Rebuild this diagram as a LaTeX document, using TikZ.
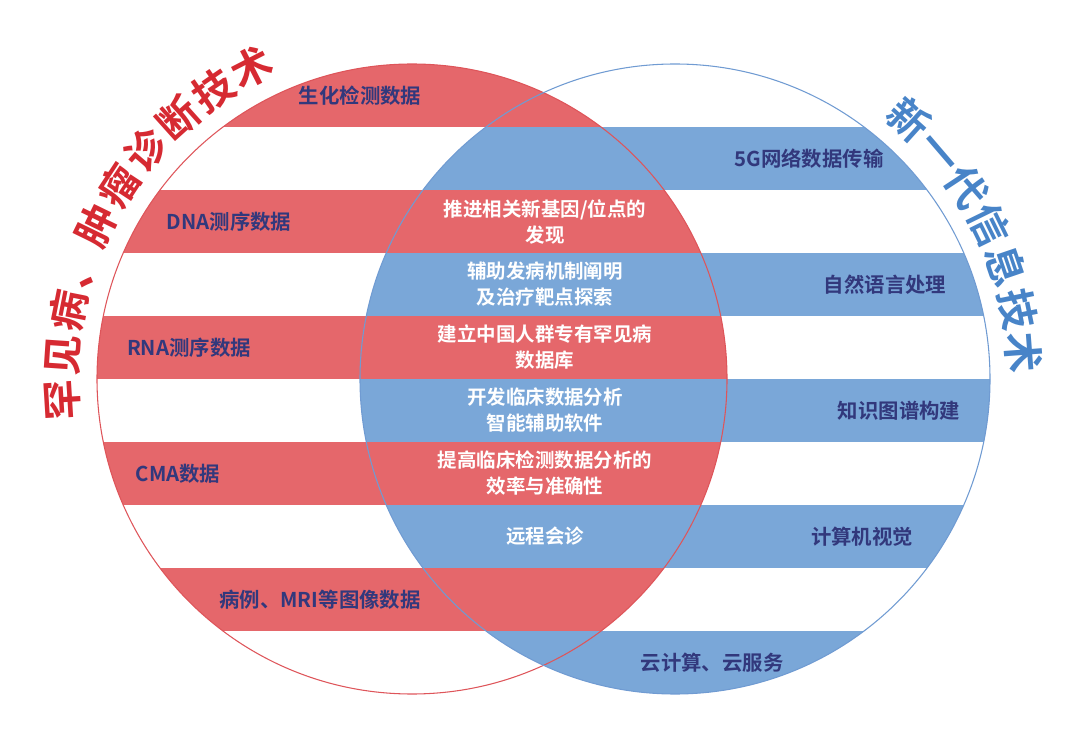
\documentclass[tikz,border=0pt]{standalone}
\usepackage{fontspec}
\setmainfont{Noto Sans CJK SC}[BoldFont={Noto Sans CJK SC Bold}]
\definecolor{bandred}{RGB}{229,103,107}
\definecolor{bandblue}{RGB}{122,167,216}
\definecolor{ringred}{RGB}{222,85,90}
\definecolor{ringblue}{RGB}{112,155,210}
\definecolor{titlered}{RGB}{214,42,50}
\definecolor{titleblue}{RGB}{72,132,200}
\definecolor{labelnavy}{RGB}{50,56,124}
\begin{document}
\begin{tikzpicture}[
  x=0.75pt, y=0.75pt,
  lbl/.style={font=\bfseries\fontsize{15.3}{19.5}\selectfont, text=labelnavy, align=center, inner sep=0pt},
  midlbl/.style={lbl, font=\bfseries\fontsize{14.6}{19.5}\selectfont, text=white},
  ttl/.style={font=\bfseries\fontsize{30.5}{30.5}\selectfont, inner sep=0pt,
    text height=0.8em, text depth=0.06em}
]
  \useasboundingbox (0,0) rectangle (1080,743);
  \coordinate (rc) at (412,364);
  \coordinate (bc) at (675,364);

  \begin{scope}
    \clip (rc) circle (315);
    \foreach \i in {0,...,4}
      \fill[bandred] (0,{616-126*\i}) rectangle (1080,{679-126*\i});
  \end{scope}
  \begin{scope}
    \clip (bc) circle (315);
    \foreach \i in {0,...,4}
      \fill[bandblue] (0,{553-126*\i}) rectangle (1080,{616-126*\i});
  \end{scope}
  \draw[ringred, line width=0.8pt] (rc) circle (315);
  \draw[ringblue, line width=0.8pt] (bc) circle (315);

  \foreach \ch [count=\k from 0] in {罕,见,病,、,肿,瘤,诊,断,技,术} {
    \pgfmathsetmacro{\ang}{183.5-7.37*\k}
    \node[ttl, text=titlered, rotate=\ang-90] (rt\k) at ([shift={(\ang:340)}]rc) {\ch};
  }
  \foreach \ch [count=\k from 0] in {新,一,代,信,息,技,术} {
    \pgfmathsetmacro{\ang}{47.9-7.27*\k}
    \node[ttl, text=titleblue, rotate=\ang-90] (bt\k) at ([shift={(\ang:339)}]bc) {\ch};
  }

  \node[lbl] (bio) at (360,647.5) {生化检测数据};
  \node[lbl] (dna) at (229,521.5) {DNA测序数据};
  \node[lbl] (rna) at (189,395.5) {RNA测序数据};
  \node[lbl] (cma) at (178,269.5) {CMA数据};
  \node[lbl] (mri) at (320,143.5) {病例、MRI等图像数据};

  \node[lbl] (net) at (809,584.5) {5G网络数据传输};
  \node[lbl] (nlp) at (885,458.5) {自然语言处理};
  \node[lbl] (kg)  at (899,332.5) {知识图谱构建};
  \node[lbl] (cv)  at (862,206.5) {计算机视觉};
  \node[lbl] (cloud) at (712,80.5) {云计算、云服务};

  \node[midlbl] (gene) at (545,521.5) {推进相关新基因/位点的\\发现};
  \node[midlbl] (mech) at (545,458.5) {辅助发病机制阐明\\及治疗靶点探索};
  \node[midlbl] (db)   at (545,395.5) {建立中国人群专有罕见病\\数据库};
  \node[midlbl] (soft) at (545,332.5) {开发临床数据分析\\智能辅助软件};
  \node[midlbl] (eff)  at (545,269.5) {提高临床检测数据分析的\\效率与准确性};
  \node[midlbl] (tele) at (545,206.5) {远程会诊};
\end{tikzpicture}
\end{document}
